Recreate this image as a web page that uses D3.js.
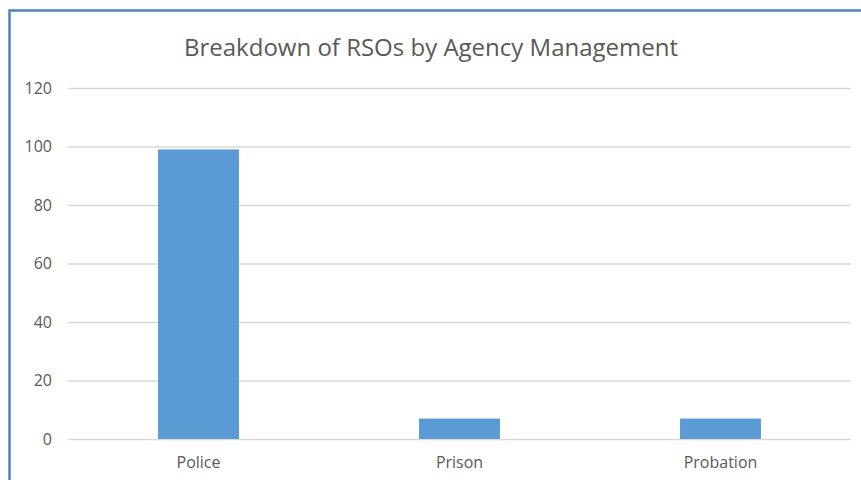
<!DOCTYPE html>
<html>
<head>
<meta charset="utf-8">
<script src="https://cdn.jsdelivr.net/npm/d3@7"></script>
<style>
  body { margin: 0; background: #fff; }
  text { font-family: "Open Sans", Lato, sans-serif; fill: #595959; }
</style>
</head>
<body>
<svg id="chart" width="861" height="480"></svg>
<script>
// chart data
var categories = ["Police", "Prison", "Probation"];
var rsoCounts = [99, 7, 7];
var yTicks = [0, 20, 40, 60, 80, 100, 120];
var chartTitle = "Breakdown of RSOs by Agency Management";

var svg = d3.select("#chart");
var W = 861, H = 480;
var margin = { top: 88, right: 10, bottom: 41, left: 68 };

// outer frame (only top and left edges show in the crop)
svg.append("rect").attr("x", 9.5).attr("y", 10.5)
    .attr("width", W + 20).attr("height", H + 20)
    .attr("fill", "#fff").attr("stroke", "#4f81bd").attr("stroke-width", 2.5);

var x = d3.scaleBand().domain(categories)
    .range([margin.left, W - margin.right])
    .paddingInner(0.69).paddingOuter(0.345);
var y = d3.scaleLinear().domain([0, 120]).range([H - margin.bottom, margin.top]);

// gridlines + y labels
var yAxis = svg.append("g").attr("transform", "translate(" + margin.left + ",0)")
    .call(d3.axisLeft(y).tickValues(yTicks).tickSize(-(W - margin.right - margin.left)).tickPadding(16));
yAxis.select(".domain").remove();
yAxis.selectAll(".tick line").attr("stroke", "#d9d9d9").attr("stroke-width", 1.3);
yAxis.selectAll(".tick text").style("font-size", "16px").attr("fill", "#595959");

// bars
svg.append("g").selectAll("rect").data(rsoCounts).join("rect")
    .attr("x", function (d, i) { return x(categories[i]); })
    .attr("y", function (d) { return y(d); })
    .attr("width", x.bandwidth())
    .attr("height", function (d) { return y(0) - y(d); })
    .attr("fill", "#5b9bd5");

// x labels
var xAxis = svg.append("g").attr("transform", "translate(0," + (H - margin.bottom) + ")")
    .call(d3.axisBottom(x).tickSize(0).tickPadding(18));
xAxis.select(".domain").remove();
xAxis.selectAll(".tick text").style("font-size", "16px").attr("fill", "#595959");

svg.append("text").attr("x", 431).attr("y", 56).attr("text-anchor", "middle")
    .style("font-size", "24px").text(chartTitle);
</script>
</body>
</html>
